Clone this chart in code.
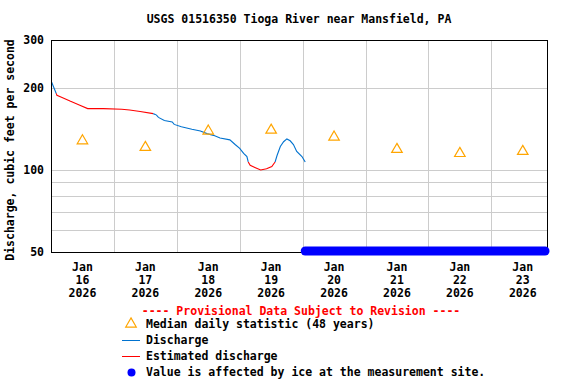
<!DOCTYPE html>
<meta charset="utf-8" />
<style>
  body {
    margin: 0;
    background: #fff;
  }
  text {
    font-family: "DejaVu Sans Mono", monospace;
    font-weight: bold;
    font-size: 11.5px;
    fill: #000;
  }
  .grid line {
    stroke: #cccccc;
    stroke-width: 1;
  }
  .frame {
    fill: none;
    stroke: black;
    stroke-width: 1;
  }
  .median {
    fill: none;
    stroke: #ffa500;
    stroke-width: 1.2;
  }
</style>
<body>
  <div id="chart"></div>
  <script src="https://cdn.jsdelivr.net/npm/d3@7"></script>
  <script>
    const width = 576;
    const height = 384;
    const margin = { top: 40, right: 29, bottom: 132, left: 51 };

    // x range shown on the plot
    const startTime = "2026-01-16T00:00";
    const endTime = "2026-01-23T21:15";

    // x tick labels (placed at noon of each day)
    const tickDays = [
      "2026-01-16",
      "2026-01-17",
      "2026-01-18",
      "2026-01-19",
      "2026-01-20",
      "2026-01-21",
      "2026-01-22",
      "2026-01-23",
    ];

    // y ticks and grid
    const yLabels = [50, 100, 200, 300];
    const yGrid = [60, 70, 80, 90, 100, 200];

    // median daily statistic, one per day
    const medianValues = [128, 121, 139, 140, 132, 119, 115, 117];

    // 15-minute discharge readings, "A" = discharge, "E" = estimated
    const flowTimes = [
      "2026-01-16T00:15", "2026-01-16T02:00", "2026-01-16T02:15",
      "2026-01-16T04:00", "2026-01-16T07:15", "2026-01-16T11:00",
      "2026-01-16T14:00", "2026-01-16T20:00", "2026-01-17T03:00",
      "2026-01-17T06:00", "2026-01-17T10:00", "2026-01-17T15:00",
      "2026-01-17T15:45", "2026-01-17T16:15", "2026-01-17T17:00",
      "2026-01-17T19:15", "2026-01-17T22:15", "2026-01-17T23:00",
      "2026-01-18T01:45", "2026-01-18T05:45", "2026-01-18T09:00",
      "2026-01-18T11:30", "2026-01-18T14:00", "2026-01-18T16:30",
      "2026-01-18T20:15", "2026-01-18T22:15", "2026-01-19T00:00",
      "2026-01-19T01:30", "2026-01-19T02:45", "2026-01-19T03:15",
      "2026-01-19T04:00", "2026-01-19T06:00", "2026-01-19T08:00",
      "2026-01-19T10:15", "2026-01-19T12:15", "2026-01-19T13:30",
      "2026-01-19T14:15", "2026-01-19T15:30", "2026-01-19T16:45",
      "2026-01-19T18:00", "2026-01-19T19:15", "2026-01-19T20:30",
      "2026-01-19T21:45", "2026-01-19T23:45", "2026-01-20T01:00",
    ];
    const flowValues = [
      210, 191, 188,
      185, 179, 173,
      168, 168, 167,
      166, 164, 161,
      160, 159, 156,
      152, 150, 147,
      144, 141, 139,
      136, 134, 131,
      129, 124, 120,
      115, 112, 107,
      104, 102, 100,
      101, 103, 107,
      113, 122, 127,
      130, 128, 124,
      117, 112, 107,
    ];
    const flowCodes = [
      "A", "A", "E",
      "E", "E", "E",
      "E", "E", "E",
      "E", "E", "E",
      "A", "A", "A",
      "A", "A", "A",
      "A", "A", "A",
      "A", "A", "A",
      "A", "A", "A",
      "A", "A", "A",
      "E", "E", "E",
      "E", "E", "E",
      "A", "A", "A",
      "A", "A", "A",
      "A", "A", "A",
    ];

    // ice-affected period, drawn along the bottom of the plot
    const iceRange = ["2026-01-20T01:00", "2026-01-23T20:30"];

    const colors = { A: "#0072cf", E: "#ff0000", ice: "#0000ff", median: "#ffa500" };

    const parse = d3.timeParse("%Y-%m-%dT%H:%M");
    const parseDay = d3.timeParse("%Y-%m-%d");

    const x = d3
      .scaleTime()
      .domain([parse(startTime), parse(endTime)])
      .range([margin.left, width - margin.right]);

    const y = d3
      .scaleLog()
      .domain([50, 300])
      .range([height - margin.bottom, margin.top]);

    const svg = d3
      .select("#chart")
      .append("svg")
      .attr("width", width)
      .attr("height", height);

    // title
    svg
      .append("text")
      .attr("x", (margin.left + width - margin.right) / 2)
      .attr("y", 23)
      .attr("text-anchor", "middle")
      .text("USGS 01516350 Tioga River near Mansfield, PA");

    // grid
    const grid = svg.append("g").attr("class", "grid");
    const midnights = d3.timeDay.range(
      d3.timeDay.offset(parse(startTime), 1),
      parse(endTime)
    );
    grid
      .selectAll(".vx")
      .data(midnights)
      .enter()
      .append("line")
      .attr("x1", (d) => Math.round(x(d)) + 0.5)
      .attr("x2", (d) => Math.round(x(d)) + 0.5)
      .attr("y1", margin.top)
      .attr("y2", height - margin.bottom);
    grid
      .selectAll(".hy")
      .data(yGrid)
      .enter()
      .append("line")
      .attr("x1", margin.left)
      .attr("x2", width - margin.right)
      .attr("y1", (d) => Math.round(y(d)) + 0.5)
      .attr("y2", (d) => Math.round(y(d)) + 0.5);

    // y tick labels
    svg
      .append("g")
      .selectAll("text")
      .data(yLabels)
      .enter()
      .append("text")
      .attr("x", margin.left - 7)
      .attr("y", (d) => y(d))
      .attr("dy", "0.35em")
      .attr("text-anchor", "end")
      .text((d) => d);

    // y axis title
    svg
      .append("text")
      .attr("transform", `translate(14,${(margin.top + height - margin.bottom) / 2 + 4}) rotate(-90)`)
      .attr("text-anchor", "middle")
      .text("Discharge, cubic feet per second");

    // x tick labels
    const xl = svg
      .append("g")
      .selectAll("text")
      .data(tickDays)
      .enter()
      .append("text")
      .attr("text-anchor", "middle")
      .attr("transform", (d) => `translate(${x(d3.timeHour.offset(parseDay(d), 12))},0)`);
    const fmt = [d3.timeFormat("%b"), d3.timeFormat("%d"), d3.timeFormat("%Y")];
    fmt.forEach((f, i) => {
      xl.append("tspan")
        .attr("x", 0)
        .attr("y", 271 + i * 13)
        .text((d) => f(parseDay(d)));
    });

    // discharge lines, split where the code changes
    const readings = flowTimes.map((t, i) => ({
      t: parse(t),
      v: flowValues[i],
      code: flowCodes[i],
    }));
    const segments = [];
    readings.forEach((d, i) => {
      if (i === 0 || d.code !== readings[i - 1].code) {
        const seg = { code: d.code, pts: i > 0 ? [readings[i - 1]] : [] };
        segments.push(seg);
      }
      segments[segments.length - 1].pts.push(d);
    });

    const line = d3
      .line()
      .x((d) => x(d.t))
      .y((d) => y(d.v));

    svg
      .append("g")
      .selectAll("path")
      .data(segments)
      .enter()
      .append("path")
      .attr("fill", "none")
      .attr("stroke", (d) => colors[d.code])
      .attr("stroke-width", 1.1)
      .attr("d", (d) => line(d.pts));

    // median triangles
    const tri = d3.symbol().type(d3.symbolTriangle).size(48);
    svg
      .append("g")
      .selectAll("path")
      .data(medianValues)
      .enter()
      .append("path")
      .attr("class", "median")
      .attr("d", tri)
      .attr(
        "transform",
        (d, i) => `translate(${x(d3.timeHour.offset(parseDay(tickDays[i]), 12))},${y(d)})`
      );

    // frame
    svg
      .append("rect")
      .attr("class", "frame")
      .attr("x", margin.left + 0.5)
      .attr("y", margin.top + 0.5)
      .attr("width", width - margin.right - margin.left)
      .attr("height", height - margin.bottom - margin.top);

    // ice flags
    svg
      .append("line")
      .attr("x1", x(parse(iceRange[0])))
      .attr("x2", x(parse(iceRange[1])))
      .attr("y1", y(50) - 1)
      .attr("y2", y(50) - 1)
      .attr("stroke", colors.ice)
      .attr("stroke-width", 9)
      .attr("stroke-linecap", "round");

    // legend
    const leg = svg.append("g");
    leg
      .append("text")
      .attr("x", 301)
      .attr("y", 315)
      .attr("text-anchor", "middle")
      .style("fill", "#ff0000")
      .text("---- Provisional Data Subject to Revision ----");

    const legendRows = [
      "Median daily statistic (48 years)",
      "Discharge",
      "Estimated discharge",
      "Value is affected by ice at the measurement site.",
    ];
    leg
      .selectAll(".lt")
      .data(legendRows)
      .enter()
      .append("text")
      .attr("x", 146)
      .attr("y", (d, i) => 328 + i * 16)
      .text((d) => d);

    leg
      .append("path")
      .attr("class", "median")
      .attr("d", tri)
      .attr("transform", "translate(131,324)");
    leg
      .append("line")
      .attr("x1", 122)
      .attr("x2", 140)
      .attr("y1", 340.5)
      .attr("y2", 340.5)
      .attr("stroke", colors.A);
    leg
      .append("line")
      .attr("x1", 122)
      .attr("x2", 140)
      .attr("y1", 356.5)
      .attr("y2", 356.5)
      .attr("stroke", colors.E);
    leg
      .append("circle")
      .attr("cx", 131.5)
      .attr("cy", 372.5)
      .attr("r", 4)
      .attr("fill", colors.ice);
  </script>
</body>
